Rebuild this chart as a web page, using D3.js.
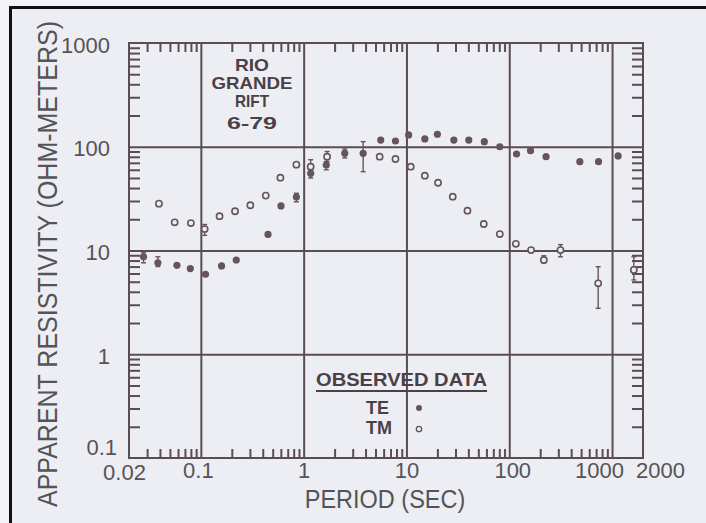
<!DOCTYPE html>
<html>
<head>
<meta charset="utf-8">
<script src="https://cdn.jsdelivr.net/npm/d3@7"></script>
<style>
  html, body { margin: 0; padding: 0; background: #f4f4f6; }
  svg { display: block; }
</style>
</head>
<body>
<svg id="chart" width="706" height="523"></svg>
<script>
// ---------- data ----------
const tePeriod = [0.0277, 0.0382, 0.0585, 0.079, 0.111, 0.159, 0.221, 0.450, 0.602, 0.85, 1.17, 1.66, 2.51, 3.79, 5.62, 7.82, 10.5, 15.1, 20.0, 28.9, 40.4, 57.2, 80.9, 117.7, 161, 228, 486, 739, 1146];
const teRho    = [8.7, 7.6, 7.2, 6.7, 5.9, 7.1, 8.1, 14.3, 26.9, 32.8, 55.5, 66.7, 86.5, 86.5, 116, 113.6, 130, 119, 132, 116, 116, 112, 100, 85.1, 91.6, 80.2, 71.8, 71.8, 81.5];

const tmPeriod = [0.0391, 0.0556, 0.080, 0.109, 0.152, 0.215, 0.303, 0.428, 0.594, 0.85, 1.17, 1.69, 5.49, 7.82, 11.0, 15.1, 20.3, 28.2, 39.2, 56.5, 80.9, 116, 163, 217, 315, 733, 1629];
const tmRho    = [28.3, 18.7, 18.4, 16.1, 21.4, 23.9, 27.3, 33.8, 50.3, 67.2, 64.2, 80.2, 80.2, 76.2, 64.2, 52.6, 45.0, 33.0, 24.2, 18.0, 14.4, 11.6, 10.1, 8.1, 10.1, 4.83, 6.5];

// error bars: [period, low, high]
const teErr = [[0.0277, 7.6, 9.5], [0.0382, 7.0, 8.7], [0.85, 29.5, 35.6], [1.17, 50, 61], [1.66, 60, 72], [2.51, 78, 95], [3.79, 57.5, 112]];
const tmErr = [[0.109, 14.0, 17.8], [1.17, 58, 75], [1.69, 72, 90], [217, 7.6, 8.9], [315, 8.7, 11.4], [733, 2.77, 6.98], [1629, 5.2, 8.7]];

const xTickValues = [0.02, 0.1, 1, 10, 100, 1000, 2000];
const xTickLabels = ["0.02", "0.1", "1", "10", "100", "1000", "2000"];
const yTickValues = [0.1, 1, 10, 100, 1000];
const yTickLabels = ["0.1", "1", "10", "100", "1000"];
const gridX = [0.1, 1, 10, 100, 1000];
const gridY = [1, 10, 100];

const siteLines = ["RIO", "GRANDE", "RIFT", "6-79"];
const legendTitle = "OBSERVED DATA";
const seriesNames = ["TE", "TM"];
const xTitle = "PERIOD (SEC)";
const yTitle = "APPARENT RESISTIVITY (OHM-METERS)";

// ---------- layout ----------
const L = 129, R = 643, T = 43, B = 458;
const ink = "#5b4c52";
const dotInk = "#655559";
const textInk = "#565356";
const boldInk = "#4b4045";
const paper = "#eceef3";
const FONT = "'Liberation Sans', Arial, sans-serif";

const svg = d3.select("#chart");
svg.append("rect").attr("x", 0).attr("y", 0).attr("width", 706).attr("height", 523).attr("fill", "#f4f4f6");
svg.append("rect").attr("x", 10).attr("y", 7).attr("width", 696).attr("height", 516).attr("fill", paper);
svg.append("line").attr("x1", 9).attr("x2", 706).attr("y1", 7.5).attr("y2", 7.5).attr("stroke", "#111").attr("stroke-width", 3);
svg.append("line").attr("x1", 10.5).attr("x2", 10.5).attr("y1", 6).attr("y2", 523).attr("stroke", "#111").attr("stroke-width", 3);

const x = d3.scaleLog().domain([0.02, 2000]).range([L, R]);
const y = d3.scaleLog().domain([0.1, 1000]).range([B, T]);

const isDecade = v => Math.abs(Math.log10(v) - Math.round(Math.log10(v))) < 1e-9;
const xMinor = x.ticks().filter(v => !isDecade(v) && v > 0.02 && v < 2000);
const yMinor = y.ticks().filter(v => !isDecade(v));

function styleAxis(g) {
  g.select(".domain").remove();
  g.selectAll(".tick line").attr("stroke", ink).attr("stroke-width", 2);
}

// grid lines
svg.append("g").attr("transform", `translate(0,${B})`)
  .call(d3.axisBottom(x).tickValues(gridX).tickSize(-(B - T)).tickFormat(""))
  .call(styleAxis);
svg.append("g").attr("transform", `translate(${L},0)`)
  .call(d3.axisLeft(y).tickValues(gridY).tickSize(-(R - L)).tickFormat(""))
  .call(styleAxis);

// minor ticks (pointing inward)
svg.append("g").attr("transform", `translate(0,${B})`)
  .call(d3.axisBottom(x).tickValues(xMinor).tickSize(-9).tickFormat(""))
  .call(styleAxis);
svg.append("g").attr("transform", `translate(0,${T})`)
  .call(d3.axisTop(x).tickValues(xMinor).tickSize(-9).tickFormat(""))
  .call(styleAxis);
svg.append("g").attr("transform", `translate(${L},0)`)
  .call(d3.axisLeft(y).tickValues(yMinor).tickSize(-11).tickFormat(""))
  .call(styleAxis);
svg.append("g").attr("transform", `translate(${R},0)`)
  .call(d3.axisRight(y).tickValues(yMinor).tickSize(-11).tickFormat(""))
  .call(styleAxis);

// frame
svg.append("rect").attr("x", L).attr("y", T).attr("width", R - L).attr("height", B - T)
  .attr("fill", "none").attr("stroke", ink).attr("stroke-width", 2);

// tick labels
const xLab = svg.append("g").attr("transform", `translate(0,${B})`)
  .call(d3.axisBottom(x).tickValues(xTickValues).tickSize(0).tickFormat((d, i) => xTickLabels[i]));
xLab.select(".domain").remove();
xLab.selectAll("text")
  .attr("y", d => d === 0.02 ? 22 : 20).attr("dy", 0)
  .attr("dx", d => d === 0.02 ? -5 : d === 1000 ? -13 : d === 2000 ? 17 : d === 0.1 ? -3 : d === 100 ? 3 : 0)
  .attr("font-family", FONT)
  .attr("font-size", 22).attr("fill", textInk);

const yLab = svg.append("g").attr("transform", `translate(${L},0)`)
  .call(d3.axisLeft(y).tickValues(yTickValues).tickSize(0).tickFormat((d, i) => yTickLabels[i]));
yLab.select(".domain").remove();
yLab.selectAll("text")
  .attr("x", d => d === 0.1 ? -12 : -19)
  .attr("dy", d => d === 0.1 ? -4 : 9)
  .attr("font-family", FONT)
  .attr("font-size", 22).attr("fill", textInk);

// axis titles (natural widths sized to the reference; glyphs stretched in height)
svg.append("text").attr("transform", "translate(385,508) scale(1,1.12)").attr("text-anchor", "middle")
  .attr("font-family", FONT).attr("font-size", 23.5)
  .attr("fill", textInk)
  .text(xTitle);
svg.append("text").attr("transform", "translate(57,264) rotate(-90) scale(1,1.12)").attr("text-anchor", "middle")
  .attr("font-family", FONT).attr("font-size", 25)
  .attr("fill", textInk)
  .text(yTitle);

// site annotation
const siteY = [71, 89, 107, 129];
const siteW = [34, 81, 34, 50];
svg.append("g").selectAll("text").data(siteLines).join("text")
  .attr("x", 252).attr("y", (d, i) => siteY[i]).attr("text-anchor", "middle")
  .attr("font-family", FONT).attr("font-weight", "bold")
  .attr("font-size", 17).attr("fill", boldInk)
  .attr("textLength", (d, i) => siteW[i]).attr("lengthAdjust", "spacingAndGlyphs")
  .text(d => d);

// error bars
function drawErr(data) {
  const g = svg.append("g").attr("stroke", dotInk).attr("stroke-width", 1.4).attr("fill", "none");
  data.forEach(([p, lo, hi]) => {
    const cx = x(p), y1 = y(hi), y2 = y(lo);
    g.append("line").attr("x1", cx).attr("x2", cx).attr("y1", y1).attr("y2", y2);
    g.append("line").attr("x1", cx - 2.5).attr("x2", cx + 2.5).attr("y1", y1).attr("y2", y1);
    g.append("line").attr("x1", cx - 2.5).attr("x2", cx + 2.5).attr("y1", y2).attr("y2", y2);
  });
}
drawErr(teErr);
drawErr(tmErr);

// TE filled points
svg.append("g").selectAll("circle").data(tePeriod).join("circle")
  .attr("cx", d => x(d)).attr("cy", (d, i) => y(teRho[i])).attr("r", 3.6)
  .attr("fill", dotInk);

// TM open points
svg.append("g").selectAll("circle").data(tmPeriod).join("circle")
  .attr("cx", d => x(d)).attr("cy", (d, i) => y(tmRho[i])).attr("r", 3.1)
  .attr("fill", paper).attr("stroke", dotInk).attr("stroke-width", 1.6);

// legend
svg.append("text").attr("x", 316).attr("y", 386)
  .attr("font-family", FONT).attr("font-weight", "bold")
  .attr("font-size", 18).attr("fill", boldInk)
  .attr("textLength", 171).attr("lengthAdjust", "spacingAndGlyphs").text(legendTitle);
svg.append("line").attr("x1", 316).attr("x2", 487).attr("y1", 391).attr("y2", 391)
  .attr("stroke", boldInk).attr("stroke-width", 2);
const legY = [414, 434];
svg.append("g").selectAll("text").data(seriesNames).join("text")
  .attr("x", 366).attr("y", (d, i) => legY[i])
  .attr("font-family", FONT).attr("font-weight", "bold")
  .attr("font-size", 18).attr("fill", boldInk).text(d => d);
svg.append("circle").attr("cx", 419).attr("cy", 408).attr("r", 3).attr("fill", dotInk);
svg.append("circle").attr("cx", 419).attr("cy", 429).attr("r", 2.7)
  .attr("fill", paper).attr("stroke", dotInk).attr("stroke-width", 1.3);
</script>
</body>
</html>
